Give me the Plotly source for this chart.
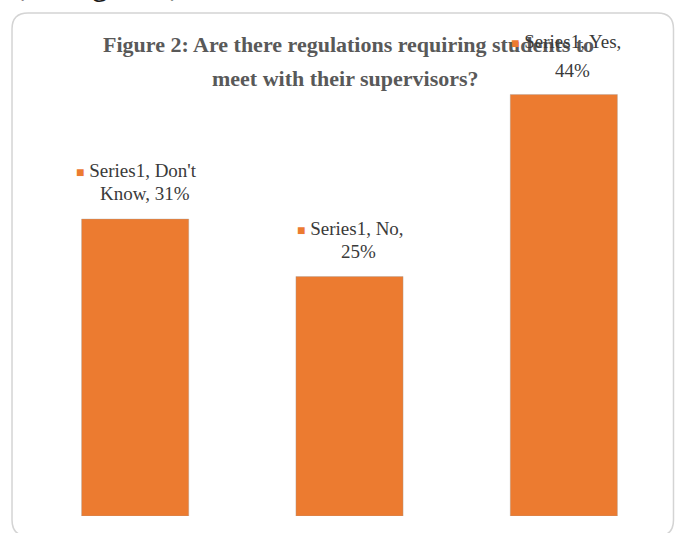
import plotly.graph_objects as go

categories = ["Don't Know", "No", "Yes"]
values = [31, 25, 44]
series_name = "Series1"
label_lines = [["Series1, Don't", "Know, 31%"], ["Series1, No,", "25%"], ["Series1, Yes,", "44%"]]
title_lines = ["Figure 2: Are there regulations requiring students to", "meet with their supervisors?"]
top_text = "(see Figure 2)"

W, H = 675, 533
L, R, T, B = 28, 3.5, 0, 17
PW, PH = W - L - R, H - T - B

def px(x):
    return (x - L) / PW

def py(y):
    return (H - B - y) / PH

ORANGE = "#EC7B30"
fig = go.Figure()
fig.add_trace(go.Bar(x=categories, y=values, width=0.5,
                     marker=dict(color=ORANGE, line=dict(color="rgba(160,160,160,0.35)", width=1)),
                     hoverinfo="skip"))

ann = []
# cropped top text (mostly above the page edge)
ann.append(dict(x=px(15), y=py(6), xref="paper", yref="paper", xanchor="left", yanchor="bottom",
                text=top_text, showarrow=False,
                font=dict(family="Open Sans", size=26, color="#1a1a1a")))
# title
for txt, cy, cx in zip(title_lines, [44, 78], [349, 346]):
    ann.append(dict(x=px(cx), y=py(cy), xref="paper", yref="paper", xanchor="center", yanchor="middle",
                    text="<b>" + txt + "</b>", showarrow=False,
                    font=dict(family="Liberation Serif", size=22, color="#595959")))
# data labels
sq = '<span style="color:%s;font-size:14px">■</span> ' % ORANGE
label_pos = [((137, 170), (145, 193)), ((351, 228), (359, 251)), ((566, 41), (573, 70))]
for lines, (p1, p2) in zip(label_lines, label_pos):
    ann.append(dict(x=px(p1[0]), y=py(p1[1]), xref="paper", yref="paper", xanchor="center", yanchor="middle",
                    text=sq + lines[0], showarrow=False,
                    font=dict(family="Liberation Serif", size=19, color="#3a3a3a")))
    ann.append(dict(x=px(p2[0]), y=py(p2[1]), xref="paper", yref="paper", xanchor="center", yanchor="middle",
                    text=lines[1], showarrow=False,
                    font=dict(family="Liberation Serif", size=19, color="#3a3a3a")))

# rounded border
x0, x1, y0, y1, r = 12, 674, 13, 536, 16
path = (f"M {px(x0)},{py(y0 + r)} Q {px(x0)},{py(y0)} {px(x0 + r)},{py(y0)} "
        f"L {px(x1 - r)},{py(y0)} Q {px(x1)},{py(y0)} {px(x1)},{py(y0 + r)} "
        f"L {px(x1)},{py(y1 - r)} Q {px(x1)},{py(y1)} {px(x1 - r)},{py(y1)} "
        f"L {px(x0 + r)},{py(y1)} Q {px(x0)},{py(y1)} {px(x0)},{py(y1 - r)} Z")
fig.add_shape(type="path", path=path, xref="paper", yref="paper",
              line=dict(color="#d4d4d4", width=1.5), layer="below")

fig.update_layout(
    width=W, height=H, margin=dict(l=L, r=R, t=T, b=B),
    paper_bgcolor="white", plot_bgcolor="white",
    showlegend=False, bargap=0.5,
    xaxis=dict(visible=False, range=[-0.5, 2.5]),
    yaxis=dict(visible=False, range=[0, PH / 9.58]),
    annotations=ann,
)
fig.write_html("out.html")
